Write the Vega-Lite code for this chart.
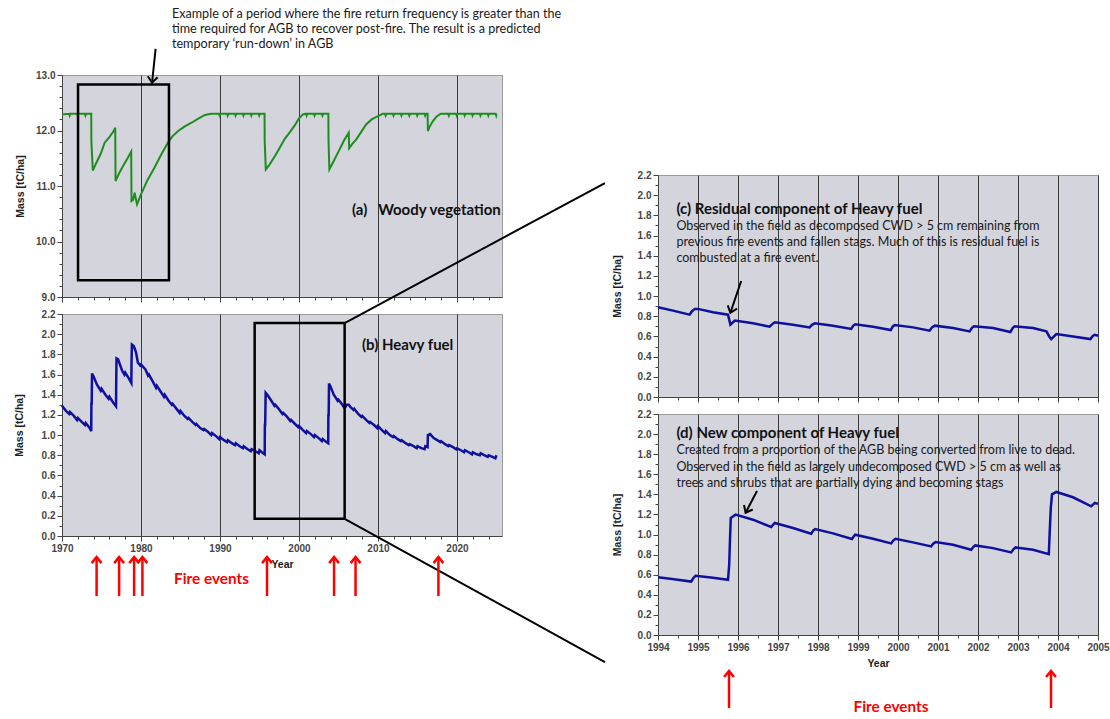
{
 "$schema": "https://vega.github.io/schema/vega-lite/v6.json",
 "padding": 0,
 "background": "white",
 "config": {
  "view": {"fill": "#d3d4dc", "stroke": "#9a9a9a", "strokeWidth": 1},
  "axis": {"labelFont": "Liberation Sans", "labelFontSize": 10, "labelFontWeight": "bold", "labelColor": "#454545", "labelFlush": false, "labelPadding": 2, "titleFont": "Liberation Sans", "titleFontSize": 10.5, "titleFontWeight": "bold", "titleColor": "#1e1e1e", "domainColor": "#444444", "tickColor": "#444444", "tickSize": 5, "gridColor": "#3a3a3a", "gridOpacity": 1, "gridWidth": 1}
 },
 "datasets": {
  "woody": [
   {"year":1970.0,"mass":12.29},{"year":1970.9,"mass":12.3},{"year":1970.97,"mass":12.27},{"year":1971.05,"mass":12.3},
   {"year":1971.9,"mass":12.3},{"year":1971.97,"mass":12.27},{"year":1972.05,"mass":12.3},
   {"year":1972.9,"mass":12.3},{"year":1972.97,"mass":12.27},{"year":1973.05,"mass":12.3},
   {"year":1973.7,"mass":12.3},{"year":1973.72,"mass":11.8},{"year":1973.9,"mass":11.28},{"year":1974.35,"mass":11.42},
   {"year":1974.9,"mass":11.58},{"year":1975.4,"mass":11.78},{"year":1976.0,"mass":11.88},{"year":1976.5,"mass":11.98},
   {"year":1976.74,"mass":12.05},{"year":1976.78,"mass":11.09},{"year":1977.2,"mass":11.22},{"year":1977.73,"mass":11.36},
   {"year":1978.3,"mass":11.5},{"year":1978.76,"mass":11.62},{"year":1978.8,"mass":10.73},{"year":1979.0,"mass":10.75},
   {"year":1979.2,"mass":10.88},{"year":1979.3,"mass":10.8},{"year":1979.5,"mass":10.67},{"year":1980.0,"mass":10.85},
   {"year":1980.8,"mass":11.1},{"year":1981.7,"mass":11.33},{"year":1982.5,"mass":11.55},{"year":1983.4,"mass":11.78},
   {"year":1984.0,"mass":11.9},{"year":1984.7,"mass":11.99},{"year":1985.5,"mass":12.07},{"year":1986.4,"mass":12.14},
   {"year":1987.2,"mass":12.21},{"year":1988.1,"mass":12.28},{"year":1988.9,"mass":12.3},
   {"year":1989.9,"mass":12.3},{"year":1989.97,"mass":12.27},{"year":1990.05,"mass":12.3},
   {"year":1990.9,"mass":12.3},{"year":1990.97,"mass":12.27},{"year":1991.05,"mass":12.3},
   {"year":1991.9,"mass":12.3},{"year":1991.97,"mass":12.27},{"year":1992.05,"mass":12.3},
   {"year":1992.9,"mass":12.3},{"year":1992.97,"mass":12.27},{"year":1993.05,"mass":12.3},
   {"year":1993.9,"mass":12.3},{"year":1993.97,"mass":12.27},{"year":1994.05,"mass":12.3},
   {"year":1994.9,"mass":12.3},{"year":1994.97,"mass":12.27},{"year":1995.05,"mass":12.3},
   {"year":1995.64,"mass":12.3},{"year":1995.66,"mass":11.8},{"year":1995.8,"mass":11.3},{"year":1996.29,"mass":11.39},
   {"year":1997.0,"mass":11.55},{"year":1997.6,"mass":11.7},{"year":1998.2,"mass":11.85},{"year":1998.9,"mass":11.98},
   {"year":1999.5,"mass":12.1},{"year":2000.0,"mass":12.22},{"year":2000.5,"mass":12.29},{"year":2000.8,"mass":12.3},
   {"year":2000.9,"mass":12.3},{"year":2000.97,"mass":12.27},{"year":2001.05,"mass":12.3},
   {"year":2001.9,"mass":12.3},{"year":2001.97,"mass":12.27},{"year":2002.05,"mass":12.3},
   {"year":2002.9,"mass":12.3},{"year":2002.97,"mass":12.27},{"year":2003.05,"mass":12.3},
   {"year":2003.72,"mass":12.3},{"year":2003.74,"mass":11.8},{"year":2003.85,"mass":11.3},{"year":2004.4,"mass":11.45},
   {"year":2005.0,"mass":11.62},{"year":2005.7,"mass":11.82},{"year":2006.3,"mass":11.96},{"year":2006.35,"mass":11.68},
   {"year":2006.7,"mass":11.75},{"year":2007.26,"mass":11.84},{"year":2007.9,"mass":11.98},{"year":2008.5,"mass":12.11},
   {"year":2009.2,"mass":12.2},{"year":2010.0,"mass":12.26},{"year":2010.6,"mass":12.3},
   {"year":2010.9,"mass":12.3},{"year":2010.97,"mass":12.27},{"year":2011.05,"mass":12.3},
   {"year":2011.9,"mass":12.3},{"year":2011.97,"mass":12.27},{"year":2012.05,"mass":12.3},
   {"year":2012.9,"mass":12.3},{"year":2012.97,"mass":12.27},{"year":2013.05,"mass":12.3},
   {"year":2013.9,"mass":12.3},{"year":2013.97,"mass":12.27},{"year":2014.05,"mass":12.3},
   {"year":2014.9,"mass":12.3},{"year":2014.97,"mass":12.27},{"year":2015.05,"mass":12.3},
   {"year":2015.9,"mass":12.3},{"year":2015.97,"mass":12.27},{"year":2016.05,"mass":12.3},
   {"year":2016.28,"mass":12.3},{"year":2016.32,"mass":11.99},{"year":2016.5,"mass":12.06},{"year":2016.96,"mass":12.17},
   {"year":2017.4,"mass":12.25},{"year":2017.8,"mass":12.29},{"year":2018.0,"mass":12.3},
   {"year":2018.9,"mass":12.3},{"year":2018.97,"mass":12.27},{"year":2019.05,"mass":12.3},
   {"year":2019.9,"mass":12.3},{"year":2019.97,"mass":12.27},{"year":2020.05,"mass":12.3},
   {"year":2020.9,"mass":12.3},{"year":2020.97,"mass":12.27},{"year":2021.05,"mass":12.3},
   {"year":2021.9,"mass":12.3},{"year":2021.97,"mass":12.27},{"year":2022.05,"mass":12.3},
   {"year":2022.9,"mass":12.3},{"year":2022.97,"mass":12.27},{"year":2023.05,"mass":12.3},
   {"year":2023.9,"mass":12.3},{"year":2023.97,"mass":12.27},{"year":2024.05,"mass":12.3},
   {"year":2024.9,"mass":12.3},{"year":2024.97,"mass":12.27},{"year":2025.0,"mass":12.29}
  ],
  "heavy": [
   {"year":1970.0,"mass":1.29},{"year":1970.5,"mass":1.24},{"year":1970.9,"mass":1.21},{"year":1971.0,"mass":1.23},
   {"year":1971.5,"mass":1.19},{"year":1971.9,"mass":1.15},{"year":1972.0,"mass":1.17},{"year":1972.5,"mass":1.13},
   {"year":1972.9,"mass":1.1},{"year":1973.0,"mass":1.12},{"year":1973.5,"mass":1.07},{"year":1973.7,"mass":1.04},
   {"year":1973.72,"mass":1.31},{"year":1973.76,"mass":1.31},{"year":1973.8,"mass":1.61},{"year":1974.0,"mass":1.58},
   {"year":1974.43,"mass":1.5},{"year":1974.9,"mass":1.44},{"year":1975.0,"mass":1.46},{"year":1975.5,"mass":1.4},
   {"year":1975.9,"mass":1.36},{"year":1976.0,"mass":1.38},{"year":1976.5,"mass":1.32},{"year":1976.84,"mass":1.285},
   {"year":1976.86,"mass":1.5},{"year":1976.9,"mass":1.76},{"year":1977.1,"mass":1.75},{"year":1977.6,"mass":1.64},
   {"year":1977.9,"mass":1.6},{"year":1978.0,"mass":1.62},{"year":1978.4,"mass":1.57},{"year":1978.78,"mass":1.516},
   {"year":1978.8,"mass":1.72},{"year":1978.85,"mass":1.897},{"year":1979.1,"mass":1.88},{"year":1979.37,"mass":1.82},
   {"year":1979.6,"mass":1.72},{"year":1979.9,"mass":1.69},{"year":1980.0,"mass":1.7},{"year":1980.56,"mass":1.65},
   {"year":1980.9,"mass":1.59},{"year":1981.0,"mass":1.6},{"year":1981.5,"mass":1.53},{"year":1981.9,"mass":1.47},
   {"year":1982.0,"mass":1.49},{"year":1982.5,"mass":1.43},{"year":1982.9,"mass":1.38},{"year":1983.0,"mass":1.4},
   {"year":1983.5,"mass":1.34},{"year":1983.9,"mass":1.3},{"year":1984.0,"mass":1.31},{"year":1984.5,"mass":1.26},
   {"year":1984.9,"mass":1.22},{"year":1985.0,"mass":1.24},{"year":1985.5,"mass":1.19},{"year":1985.9,"mass":1.16},
   {"year":1986.0,"mass":1.17},{"year":1986.5,"mass":1.13},{"year":1986.9,"mass":1.1},{"year":1987.0,"mass":1.11},
   {"year":1987.5,"mass":1.07},{"year":1987.9,"mass":1.05},{"year":1988.0,"mass":1.06},{"year":1988.5,"mass":1.03},
   {"year":1988.9,"mass":1.0},{"year":1989.0,"mass":1.02},{"year":1989.5,"mass":0.99},{"year":1989.9,"mass":0.96},
   {"year":1990.0,"mass":0.98},{"year":1990.5,"mass":0.95},{"year":1990.9,"mass":0.93},{"year":1991.0,"mass":0.95},
   {"year":1991.5,"mass":0.92},{"year":1991.9,"mass":0.9},{"year":1992.0,"mass":0.92},{"year":1992.5,"mass":0.89},
   {"year":1992.9,"mass":0.87},{"year":1993.0,"mass":0.89},{"year":1993.5,"mass":0.86},{"year":1993.9,"mass":0.84},
   {"year":1994.0,"mass":0.86},{"year":1994.5,"mass":0.84},{"year":1994.9,"mass":0.82},{"year":1995.0,"mass":0.85},
   {"year":1995.3,"mass":0.83},{"year":1995.66,"mass":0.81},{"year":1995.68,"mass":1.1},{"year":1995.72,"mass":1.1},
   {"year":1995.78,"mass":1.42},{"year":1996.0,"mass":1.4},{"year":1996.58,"mass":1.33},{"year":1996.9,"mass":1.29},
   {"year":1997.0,"mass":1.3},{"year":1997.43,"mass":1.26},{"year":1997.9,"mass":1.21},{"year":1998.0,"mass":1.22},
   {"year":1998.5,"mass":1.18},{"year":1998.9,"mass":1.14},{"year":1999.0,"mass":1.15},{"year":1999.5,"mass":1.11},
   {"year":1999.9,"mass":1.08},{"year":2000.0,"mass":1.09},{"year":2000.5,"mass":1.05},{"year":2000.9,"mass":1.02},
   {"year":2001.0,"mass":1.04},{"year":2001.5,"mass":1.01},{"year":2001.9,"mass":0.98},{"year":2002.0,"mass":1.0},
   {"year":2002.5,"mass":0.97},{"year":2002.9,"mass":0.94},{"year":2003.0,"mass":0.96},{"year":2003.5,"mass":0.93},
   {"year":2003.7,"mass":0.92},{"year":2003.72,"mass":1.2},{"year":2003.76,"mass":1.2},{"year":2003.8,"mass":1.51},
   {"year":2004.0,"mass":1.48},{"year":2004.4,"mass":1.4},{"year":2004.9,"mass":1.34},{"year":2005.0,"mass":1.35},
   {"year":2005.4,"mass":1.31},{"year":2005.75,"mass":1.27},{"year":2005.9,"mass":1.28},{"year":2006.0,"mass":1.3},
   {"year":2006.3,"mass":1.3},{"year":2006.5,"mass":1.28},{"year":2006.9,"mass":1.25},{"year":2007.0,"mass":1.26},
   {"year":2007.5,"mass":1.21},{"year":2007.9,"mass":1.18},{"year":2008.0,"mass":1.19},{"year":2008.5,"mass":1.15},
   {"year":2008.9,"mass":1.12},{"year":2009.0,"mass":1.13},{"year":2009.5,"mass":1.1},{"year":2009.9,"mass":1.07},
   {"year":2010.0,"mass":1.09},{"year":2010.5,"mass":1.05},{"year":2010.9,"mass":1.02},{"year":2011.0,"mass":1.04},
   {"year":2011.5,"mass":1.0},{"year":2011.9,"mass":0.98},{"year":2012.0,"mass":0.99},{"year":2012.5,"mass":0.96},
   {"year":2012.9,"mass":0.94},{"year":2013.0,"mass":0.95},{"year":2013.5,"mass":0.92},{"year":2013.9,"mass":0.9},
   {"year":2014.0,"mass":0.91},{"year":2014.5,"mass":0.89},{"year":2014.9,"mass":0.87},{"year":2015.0,"mass":0.89},
   {"year":2015.5,"mass":0.87},{"year":2015.9,"mass":0.86},{"year":2016.0,"mass":0.89},{"year":2016.28,"mass":0.88},
   {"year":2016.32,"mass":1.0},{"year":2016.6,"mass":1.01},{"year":2017.05,"mass":0.97},{"year":2017.5,"mass":0.95},
   {"year":2017.9,"mass":0.93},{"year":2018.0,"mass":0.94},{"year":2018.5,"mass":0.91},{"year":2018.9,"mass":0.89},
   {"year":2019.0,"mass":0.9},{"year":2019.5,"mass":0.88},{"year":2019.9,"mass":0.86},{"year":2020.0,"mass":0.87},
   {"year":2020.5,"mass":0.85},{"year":2020.9,"mass":0.83},{"year":2021.0,"mass":0.85},{"year":2021.5,"mass":0.83},
   {"year":2021.9,"mass":0.81},{"year":2022.0,"mass":0.83},{"year":2022.5,"mass":0.81},{"year":2022.9,"mass":0.8},
   {"year":2023.0,"mass":0.82},{"year":2023.5,"mass":0.8},{"year":2023.9,"mass":0.785},{"year":2024.0,"mass":0.8},
   {"year":2024.5,"mass":0.785},{"year":2024.86,"mass":0.77},{"year":2025.0,"mass":0.8}
  ],
  "residual": [
   {"year":1994.0,"mass":0.889},{"year":1994.375,"mass":0.856},{"year":1994.79,"mass":0.816},{"year":1994.85,"mass":0.85},
   {"year":1994.92,"mass":0.873},{"year":1995.0,"mass":0.873},{"year":1995.375,"mass":0.839},{"year":1995.75,"mass":0.816},
   {"year":1995.81,"mass":0.717},{"year":1995.92,"mass":0.757},{"year":1996.375,"mass":0.73},{"year":1996.79,"mass":0.697},
   {"year":1996.85,"mass":0.72},{"year":1996.92,"mass":0.74},{"year":1997.375,"mass":0.717},{"year":1997.79,"mass":0.69},
   {"year":1997.85,"mass":0.715},{"year":1997.92,"mass":0.73},{"year":1998.375,"mass":0.707},{"year":1998.83,"mass":0.674},
   {"year":1998.88,"mass":0.705},{"year":1998.93,"mass":0.72},{"year":1999.375,"mass":0.697},{"year":1999.82,"mass":0.664},
   {"year":1999.87,"mass":0.7},{"year":1999.92,"mass":0.714},{"year":2000.375,"mass":0.69},{"year":2000.79,"mass":0.657},
   {"year":2000.85,"mass":0.69},{"year":2000.92,"mass":0.707},{"year":2001.375,"mass":0.684},{"year":2001.79,"mass":0.65},
   {"year":2001.85,"mass":0.685},{"year":2001.9,"mass":0.7},{"year":2002.375,"mass":0.684},{"year":2002.81,"mass":0.644},
   {"year":2002.87,"mass":0.685},{"year":2002.92,"mass":0.7},{"year":2003.375,"mass":0.684},{"year":2003.71,"mass":0.65},
   {"year":2003.78,"mass":0.6},{"year":2003.83,"mass":0.574},{"year":2003.96,"mass":0.624},{"year":2004.375,"mass":0.6},
   {"year":2004.81,"mass":0.574},{"year":2004.87,"mass":0.605},{"year":2004.92,"mass":0.617},{"year":2005.0,"mass":0.607}
  ],
  "newfuel": [
   {"year":1994.0,"mass":0.576},{"year":1994.4,"mass":0.555},{"year":1994.83,"mass":0.532},{"year":1994.88,"mass":0.565},
   {"year":1994.94,"mass":0.589},{"year":1995.375,"mass":0.57},{"year":1995.75,"mass":0.549},{"year":1995.78,"mass":0.7},
   {"year":1995.8,"mass":0.95},{"year":1995.82,"mass":1.165},{"year":1995.94,"mass":1.198},{"year":1996.375,"mass":1.148},
   {"year":1996.83,"mass":1.075},{"year":1996.88,"mass":1.1},{"year":1996.92,"mass":1.115},{"year":1997.375,"mass":1.065},
   {"year":1997.83,"mass":1.008},{"year":1997.88,"mass":1.04},{"year":1997.93,"mass":1.055},{"year":1998.375,"mass":1.012},
   {"year":1998.85,"mass":0.955},{"year":1998.89,"mass":0.98},{"year":1998.93,"mass":0.998},{"year":1999.375,"mass":0.958},
   {"year":1999.83,"mass":0.912},{"year":1999.88,"mass":0.94},{"year":1999.94,"mass":0.958},{"year":2000.375,"mass":0.922},
   {"year":2000.83,"mass":0.882},{"year":2000.88,"mass":0.91},{"year":2000.94,"mass":0.925},{"year":2001.375,"mass":0.898},
   {"year":2001.83,"mass":0.849},{"year":2001.88,"mass":0.875},{"year":2001.93,"mass":0.892},{"year":2002.375,"mass":0.865},
   {"year":2002.83,"mass":0.822},{"year":2002.88,"mass":0.85},{"year":2002.94,"mass":0.872},{"year":2003.375,"mass":0.849},
   {"year":2003.77,"mass":0.805},{"year":2003.79,"mass":1.0},{"year":2003.82,"mass":1.265},{"year":2003.85,"mass":1.4},
   {"year":2003.96,"mass":1.424},{"year":2004.375,"mass":1.371},{"year":2004.83,"mass":1.281},{"year":2004.88,"mass":1.3},
   {"year":2004.92,"mass":1.314},{"year":2005.0,"mass":1.305}
  ],
  "fires_long": [{"year":1974.38},{"year":1977.23},{"year":1979.13},{"year":1980.18},{"year":1995.95},{"year":2004.44},{"year":2007.16},{"year":2017.65}],
  "fires_zoom": [{"year":1995.775},{"year":2003.825}]
 },
 "concat": [
  {
   "vconcat": [
    {
     "width": 440, "height": 222,
     "resolve": {"axis": {"x": "independent", "y": "independent"}},
     "layer": [
      {"data": {"name": "woody"}, "mark": {"type": "line", "color": "#1f8c1f", "strokeWidth": 2},
       "encoding": {
        "x": {"field": "year", "type": "quantitative", "scale": {"domain": [1970, 2025.7], "nice": false, "zero": false},
              "axis": {"orient": "bottom", "values": [1970,1980,1990,2000,2010,2020], "labels": false, "title": null, "grid": true}},
        "y": {"field": "mass", "type": "quantitative", "scale": {"domain": [9, 13], "nice": false, "zero": false},
              "axis": {"orient": "left", "values": [9,10,11,12,13], "format": ".1f", "title": "Mass [tC/ha]", "titlePadding": 10, "grid": false}}}},
      {"data": {"values": [{"x1": 1972.03, "x2": 1983.54, "y1": 9.3, "y2": 12.83}]},
       "mark": {"type": "rect", "filled": false, "stroke": "#000000", "strokeWidth": 2.5},
       "encoding": {
        "x": {"field": "x1", "type": "quantitative", "axis": {"orient": "bottom", "values": [1972,1974,1976,1978,1982,1984,1986,1988,1992,1994,1996,1998,2002,2004,2006,2008,2012,2014,2016,2018,2022,2024], "labels": false, "domain": false, "grid": false, "tickSize": 3, "title": null}},
        "x2": {"field": "x2"},
        "y": {"field": "y1", "type": "quantitative", "axis": {"orient": "left", "values": [9.2,9.4,9.6,9.8,10.2,10.4,10.6,10.8,11.2,11.4,11.6,11.8,12.2,12.4,12.6,12.8], "labels": false, "domain": false, "grid": false, "tickSize": 3, "title": null}},
        "y2": {"field": "y2"}}},
      {"data": {"values": [
        {"x": 1983.92, "y": 14.094, "t": "Example of a period where the fire return frequency is greater than the"},
        {"x": 1983.92, "y": 13.823, "t": "time required for AGB to recover post-fire. The result is a predicted"},
        {"x": 1983.92, "y": 13.553, "t": "temporary  ‘run-down’ in AGB"}]},
       "mark": {"type": "text", "align": "left", "baseline": "middle", "font": "Lato", "fontSize": 12.6, "color": "#1a1a1a"},
       "encoding": {"x": {"field": "x", "type": "quantitative", "axis": null}, "y": {"field": "y", "type": "quantitative", "axis": null}, "text": {"field": "t"}}},
      {"data": {"values": [{"x": 2006.71, "y": 10.57, "t": "(a)\u00a0\u00a0\u00a0Woody vegetation"}]},
       "mark": {"type": "text", "align": "left", "baseline": "middle", "font": "Lato", "fontSize": 15, "fontWeight": "bold", "color": "#111111"},
       "encoding": {"x": {"field": "x", "type": "quantitative", "axis": null}, "y": {"field": "y", "type": "quantitative", "axis": null}, "text": {"field": "t"}}},
      {"data": {"values": [{"x1": 1981.85, "y1": 13.47, "x2": 1981.4, "y2": 12.86}]},
       "mark": {"type": "rule", "color": "#000000", "strokeWidth": 2},
       "encoding": {"x": {"field": "x1", "type": "quantitative", "axis": null}, "y": {"field": "y1", "type": "quantitative", "axis": null}, "x2": {"field": "x2"}, "y2": {"field": "y2"}}},
      {"data": {"values": [{"x2": 1981.4, "y2": 12.86}]},
       "mark": {"type": "point", "shape": "M-0.8,1L0,0L0.8,1", "filled": false, "stroke": "#000000", "strokeWidth": 2, "size": 150, "angle": 186, "opacity": 1},
       "encoding": {"x": {"field": "x2", "type": "quantitative", "axis": null}, "y": {"field": "y2", "type": "quantitative", "axis": null}}},
      {"data": {"values": [{}]},
       "mark": {"type": "point", "filled": true, "size": 1, "opacity": 0},
       "encoding": {"x": {"datum": 1962.4, "type": "quantitative", "axis": null}, "y": {"datum": 14.333, "type": "quantitative", "axis": null}}}
     ]
    },
    {
     "width": 440, "height": 222,
     "resolve": {"axis": {"x": "independent", "y": "independent"}},
     "layer": [
      {"data": {"name": "heavy"}, "mark": {"type": "line", "color": "#10109e", "strokeWidth": 2.5},
       "encoding": {
        "x": {"field": "year", "type": "quantitative", "scale": {"domain": [1970, 2025.7], "nice": false, "zero": false},
              "axis": {"orient": "bottom", "values": [1970,1980,1990,2000,2010,2020], "format": "d", "title": "Year", "titlePadding": 6, "grid": true}},
        "y": {"field": "mass", "type": "quantitative", "scale": {"domain": [0, 2.2], "nice": false, "zero": false},
              "axis": {"orient": "left", "values": [0,0.2,0.4,0.6,0.8,1.0,1.2,1.4,1.6,1.8,2.0,2.2], "format": ".1f", "title": "Mass [tC/ha]", "titlePadding": 17, "grid": false}}}},
      {"data": {"values": [{"x1": 1994.39, "x2": 2005.78, "y1": 0.17, "y2": 2.11}]},
       "mark": {"type": "rect", "filled": false, "stroke": "#000000", "strokeWidth": 2.5},
       "encoding": {
        "x": {"field": "x1", "type": "quantitative", "axis": {"orient": "bottom", "values": [1972,1974,1976,1978,1982,1984,1986,1988,1992,1994,1996,1998,2002,2004,2006,2008,2012,2014,2016,2018,2022,2024], "labels": false, "domain": false, "grid": false, "tickSize": 3, "title": null}},
        "x2": {"field": "x2"},
        "y": {"field": "y1", "type": "quantitative", "axis": {"orient": "left", "values": [0.1,0.3,0.5,0.7,0.9,1.1,1.3,1.5,1.7,1.9,2.1], "labels": false, "domain": false, "grid": false, "tickSize": 3, "title": null}},
        "y2": {"field": "y2"}}},
      {"data": {"values": [{"x1": 2005.78, "y1": 2.11, "x2": 2038.73, "y2": 3.498}, {"x1": 2005.78, "y1": 0.17, "x2": 2038.73, "y2": -1.249}]},
       "mark": {"type": "rule", "color": "#000000", "strokeWidth": 2},
       "encoding": {"x": {"field": "x1", "type": "quantitative", "axis": null}, "y": {"field": "y1", "type": "quantitative", "axis": null}, "x2": {"field": "x2"}, "y2": {"field": "y2"}}},
      {"data": {"values": [{"x": 2007.97, "y": 1.89, "t": "(b) Heavy fuel"}]},
       "mark": {"type": "text", "align": "left", "baseline": "middle", "font": "Lato", "fontSize": 15, "fontWeight": "bold", "color": "#111111"},
       "encoding": {"x": {"field": "x", "type": "quantitative", "axis": null}, "y": {"field": "y", "type": "quantitative", "axis": null}, "text": {"field": "t"}}},
      {"data": {"name": "fires_long"},
       "mark": {"type": "rule", "color": "#ff0000", "strokeWidth": 2.5},
       "encoding": {"x": {"field": "year", "type": "quantitative", "axis": null}, "y": {"datum": -0.595, "type": "quantitative", "axis": null}, "y2": {"datum": -0.215}}},
      {"data": {"name": "fires_long"},
       "mark": {"type": "point", "shape": "M-0.8,1L0,0L0.8,1", "filled": false, "stroke": "#ff0000", "strokeWidth": 2.5, "size": 150, "opacity": 1},
       "encoding": {"x": {"field": "year", "type": "quantitative", "axis": null}, "y": {"datum": -0.208, "type": "quantitative", "axis": null}}},
      {"data": {"values": [{"x": 1988.92, "y": -0.426, "t": "Fire events"}]},
       "mark": {"type": "text", "align": "center", "baseline": "middle", "font": "Lato", "fontSize": 15.3, "fontWeight": "bold", "color": "#ff0000"},
       "encoding": {"x": {"field": "x", "type": "quantitative", "axis": null}, "y": {"field": "y", "type": "quantitative", "axis": null}, "text": {"field": "t"}}}
     ]
    }
   ],
   "spacing": 17,
   "bounds": "flush"
  },
  {
   "vconcat": [
    {
     "width": 440, "height": 83,
     "view": {"fill": null, "stroke": null},
     "data": {"values": [{}]},
     "mark": {"type": "point", "opacity": 0},
     "encoding": {}
    },
    {
     "width": 440, "height": 222,
     "resolve": {"axis": {"x": "independent", "y": "independent"}},
     "layer": [
      {"data": {"name": "residual"}, "mark": {"type": "line", "color": "#10109e", "strokeWidth": 2.5},
       "encoding": {
        "x": {"field": "year", "type": "quantitative", "scale": {"domain": [1994, 2005], "nice": false, "zero": false},
              "axis": {"orient": "bottom", "values": [1994,1995,1996,1997,1998,1999,2000,2001,2002,2003,2004,2005], "labels": false, "title": null, "grid": true}},
        "y": {"field": "mass", "type": "quantitative", "scale": {"domain": [0, 2.2], "nice": false, "zero": false},
              "axis": {"orient": "left", "values": [0,0.2,0.4,0.6,0.8,1.0,1.2,1.4,1.6,1.8,2.0,2.2], "format": ".1f", "title": "Mass [tC/ha]", "titlePadding": 15, "grid": false}}}},
      {"data": {"values": [{"x": 1994.46, "y": 1.866, "t": "(c) Residual component of Heavy fuel"}]},
       "mark": {"type": "text", "align": "left", "baseline": "middle", "font": "Lato", "fontSize": 15, "fontWeight": "bold", "color": "#111111"},
       "encoding": {
        "x": {"field": "x", "type": "quantitative", "axis": {"orient": "bottom", "values": [1994.5,1995.5,1996.5,1997.5,1998.5,1999.5,2000.5,2001.5,2002.5,2003.5,2004.5], "labels": false, "domain": false, "grid": false, "tickSize": 3, "title": null}},
        "y": {"field": "y", "type": "quantitative", "axis": {"orient": "left", "values": [0.1,0.3,0.5,0.7,0.9,1.1,1.3,1.5,1.7,1.9,2.1], "labels": false, "domain": false, "grid": false, "tickSize": 3, "title": null}},
        "text": {"field": "t"}}},
      {"data": {"values": [
        {"x": 1994.46, "y": 1.693, "t": "Observed in the field as decomposed  CWD > 5 cm remaining from"},
        {"x": 1994.46, "y": 1.536, "t": "previous fire events and fallen stags. Much of this is residual fuel is"},
        {"x": 1994.46, "y": 1.375, "t": "combusted at a fire event."}]},
       "mark": {"type": "text", "align": "left", "baseline": "middle", "font": "Lato", "fontSize": 12.5, "color": "#1a1a1a"},
       "encoding": {"x": {"field": "x", "type": "quantitative", "axis": null}, "y": {"field": "y", "type": "quantitative", "axis": null}, "text": {"field": "t"}}},
      {"data": {"values": [{"x1": 1996.08, "y1": 1.15, "x2": 1995.81, "y2": 0.835}]},
       "mark": {"type": "rule", "color": "#000000", "strokeWidth": 2},
       "encoding": {"x": {"field": "x1", "type": "quantitative", "axis": null}, "y": {"field": "y1", "type": "quantitative", "axis": null}, "x2": {"field": "x2"}, "y2": {"field": "y2"}}},
      {"data": {"values": [{"x2": 1995.81, "y2": 0.835}]},
       "mark": {"type": "point", "shape": "M-0.8,1L0,0L0.8,1", "filled": false, "stroke": "#000000", "strokeWidth": 2, "size": 150, "angle": 199, "opacity": 1},
       "encoding": {"x": {"field": "x2", "type": "quantitative", "axis": null}, "y": {"field": "y2", "type": "quantitative", "axis": null}}},
      {"data": {"values": [{}]},
       "mark": {"type": "point", "filled": true, "size": 1, "opacity": 0},
       "encoding": {"x": {"datum": 1992.75, "type": "quantitative", "axis": null}, "y": {"datum": 2.2, "type": "quantitative", "axis": null}}}
     ]
    },
    {
     "width": 440, "height": 221,
     "resolve": {"axis": {"x": "independent", "y": "independent"}},
     "layer": [
      {"data": {"name": "newfuel"}, "mark": {"type": "line", "color": "#10109e", "strokeWidth": 2.5},
       "encoding": {
        "x": {"field": "year", "type": "quantitative", "scale": {"domain": [1994, 2005], "nice": false, "zero": false},
              "axis": {"orient": "bottom", "values": [1994,1995,1996,1997,1998,1999,2000,2001,2002,2003,2004,2005], "format": "d", "title": "Year", "titlePadding": 6, "grid": true}},
        "y": {"field": "mass", "type": "quantitative", "scale": {"domain": [0, 2.2], "nice": false, "zero": false},
              "axis": {"orient": "left", "values": [0,0.2,0.4,0.6,0.8,1.0,1.2,1.4,1.6,1.8,2.0,2.2], "format": ".1f", "title": "Mass [tC/ha]", "titlePadding": 15, "grid": false}}}},
      {"data": {"values": [{"x": 1994.46, "y": 2.014, "t": "(d) New component of Heavy fuel"}]},
       "mark": {"type": "text", "align": "left", "baseline": "middle", "font": "Lato", "fontSize": 15, "fontWeight": "bold", "color": "#111111"},
       "encoding": {
        "x": {"field": "x", "type": "quantitative", "axis": {"orient": "bottom", "values": [1994.5,1995.5,1996.5,1997.5,1998.5,1999.5,2000.5,2001.5,2002.5,2003.5,2004.5], "labels": false, "domain": false, "grid": false, "tickSize": 3, "title": null}},
        "y": {"field": "y", "type": "quantitative", "axis": {"orient": "left", "values": [0.1,0.3,0.5,0.7,0.9,1.1,1.3,1.5,1.7,1.9,2.1], "labels": false, "domain": false, "grid": false, "tickSize": 3, "title": null}},
        "text": {"field": "t"}}},
      {"data": {"values": [
        {"x": 1994.46, "y": 1.842, "t": "Created from  a proportion  of the AGB being converted  from live to dead."},
        {"x": 1994.46, "y": 1.675, "t": "Observed in the field as largely undecomposed CWD > 5 cm as well as"},
        {"x": 1994.46, "y": 1.516, "t": "trees and shrubs that are partially dying and becoming  stags"}]},
       "mark": {"type": "text", "align": "left", "baseline": "middle", "font": "Lato", "fontSize": 12.5, "color": "#1a1a1a"},
       "encoding": {"x": {"field": "x", "type": "quantitative", "axis": null}, "y": {"field": "y", "type": "quantitative", "axis": null}, "text": {"field": "t"}}},
      {"data": {"values": [{"x1": 1996.475, "y1": 1.433, "x2": 1996.19, "y2": 1.217}]},
       "mark": {"type": "rule", "color": "#000000", "strokeWidth": 2},
       "encoding": {"x": {"field": "x1", "type": "quantitative", "axis": null}, "y": {"field": "y1", "type": "quantitative", "axis": null}, "x2": {"field": "x2"}, "y2": {"field": "y2"}}},
      {"data": {"values": [{"x2": 1996.19, "y2": 1.217}]},
       "mark": {"type": "point", "shape": "M-0.8,1L0,0L0.8,1", "filled": false, "stroke": "#000000", "strokeWidth": 2, "size": 150, "angle": 207, "opacity": 1},
       "encoding": {"x": {"field": "x2", "type": "quantitative", "axis": null}, "y": {"field": "y2", "type": "quantitative", "axis": null}}},
      {"data": {"name": "fires_zoom"},
       "mark": {"type": "rule", "color": "#ff0000", "strokeWidth": 2.5},
       "encoding": {"x": {"field": "year", "type": "quantitative", "axis": null}, "y": {"datum": -0.727, "type": "quantitative", "axis": null}, "y2": {"datum": -0.365}}},
      {"data": {"name": "fires_zoom"},
       "mark": {"type": "point", "shape": "M-0.8,1L0,0L0.8,1", "filled": false, "stroke": "#ff0000", "strokeWidth": 2.5, "size": 150, "opacity": 1},
       "encoding": {"x": {"field": "year", "type": "quantitative", "axis": null}, "y": {"datum": -0.358, "type": "quantitative", "axis": null}}},
      {"data": {"values": [{"x": 1999.825, "y": -0.717, "t": "Fire events"}]},
       "mark": {"type": "text", "align": "center", "baseline": "middle", "font": "Lato", "fontSize": 15.3, "fontWeight": "bold", "color": "#ff0000"},
       "encoding": {"x": {"field": "x", "type": "quantitative", "axis": null}, "y": {"field": "y", "type": "quantitative", "axis": null}, "text": {"field": "t"}}}
     ]
    }
   ],
   "spacing": 17,
   "bounds": "flush"
  }
 ],
 "columns": 2,
 "align": "none",
 "spacing": 0
}
